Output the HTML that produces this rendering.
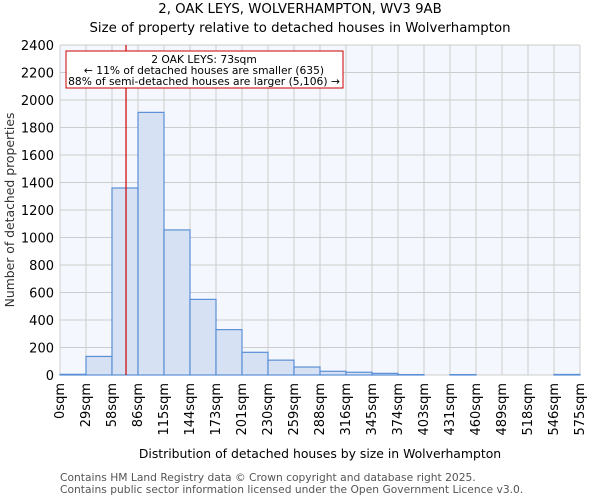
<!DOCTYPE html>
<html><head><meta charset="utf-8"><style>
body{margin:0;background:#fff;font-family:"DejaVu Sans","Liberation Sans",sans-serif;}
svg text{font-family:"DejaVu Sans","Liberation Sans",sans-serif;}
</style></head><body>
<svg width="600" height="500" xmlns="http://www.w3.org/2000/svg">
<text x="300" y="13" text-anchor="middle" font-size="13.3">2, OAK LEYS, WOLVERHAMPTON, WV3 9AB</text>
<text x="300" y="32" text-anchor="middle" font-size="13.3">Size of property relative to detached houses in Wolverhampton</text>
<rect x="60" y="45" width="520" height="330" fill="#f4f7fd"/>
<g id="grid"></g>
<g id="bars"></g>
<g id="yticks"></g>
<g id="xticks"></g>
<line id="marker" stroke="#cc0000" stroke-width="1.2"/>
<rect x="66" y="51" width="277" height="37" fill="#fff" stroke="#cc0000"/>
<text x="204" y="63" text-anchor="middle" font-size="10.7">2 OAK LEYS: 73sqm</text>
<text x="204" y="74" text-anchor="middle" font-size="10.7">← 11% of detached houses are smaller (635)</text>
<text x="204" y="85" text-anchor="middle" font-size="10.7">88% of semi-detached houses are larger (5,106) →</text>
<text transform="translate(14,210) rotate(-90)" text-anchor="middle" font-size="12.4" fill="#333">Number of detached properties</text>
<text x="320" y="458" text-anchor="middle" font-size="12.4">Distribution of detached houses by size in Wolverhampton</text>
<text x="60" y="481" font-size="10.7" fill="#555">Contains HM Land Registry data © Crown copyright and database right 2025.</text>
<text x="60" y="493" font-size="10.7" fill="#555">Contains public sector information licensed under the Open Government Licence v3.0.</text>
</svg>
<script>
const binLabels=["0sqm","29sqm","58sqm","86sqm","115sqm","144sqm","173sqm","201sqm","230sqm","259sqm","288sqm","316sqm","345sqm","374sqm","403sqm","431sqm","460sqm","489sqm","518sqm","546sqm","575sqm"];
const counts=[5,135,1360,1910,1055,550,330,165,108,58,27,20,12,3,0,3,0,0,0,4];
const yTicks=[0,200,400,600,800,1000,1200,1400,1600,1800,2000,2200,2400];
const markerValue=73;
const binWidthSqm=28.75;
const NS="http://www.w3.org/2000/svg";
const x0=60,x1=580,yb=375,yt=45,yMax=2400;
const bw=(x1-x0)/counts.length;
const xs=i=>x0+i*bw;
const ys=v=>yb-v/yMax*(yb-yt);
function mk(t,a,p){const e=document.createElementNS(NS,t);for(const k in a)e.setAttribute(k,a[k]);document.getElementById(p).appendChild(e);return e;}
yTicks.forEach(v=>{
 const g=mk("line",{x1:x0,x2:x1,y1:ys(v),y2:ys(v),stroke:"#ccc","stroke-width":1},"grid");
 
 
 const t=mk("text",{x:x0-6,y:ys(v)+5,"text-anchor":"end","font-size":13},"yticks");
 t.textContent=v;
 
 
});
binLabels.forEach((l,i)=>{
 const g=mk("line",{x1:xs(i),x2:xs(i),y1:yt,y2:yb,stroke:"#ccc","stroke-width":1},"grid");
 
 
 const x=xs(i)+4,y=yb+8;
 const t=mk("text",{x:x,y:y,"text-anchor":"end","font-size":13,transform:`rotate(-90 ${x} ${y})`},"xticks");
 t.textContent=l;
 
 
});
counts.forEach((c,i)=>{
 const r=mk("rect",{x:xs(i),y:ys(c),width:bw,height:yb-ys(c),fill:"#d6e2f3",stroke:"#5b8fd6","stroke-width":1.2},"bars");
 
 
});
const mx=x0+markerValue/binWidthSqm*bw;
const m=document.getElementById("marker");
m.setAttribute("x1",mx);m.setAttribute("x2",mx);m.setAttribute("y1",yt);m.setAttribute("y2",yb);
</script>
</body></html>
